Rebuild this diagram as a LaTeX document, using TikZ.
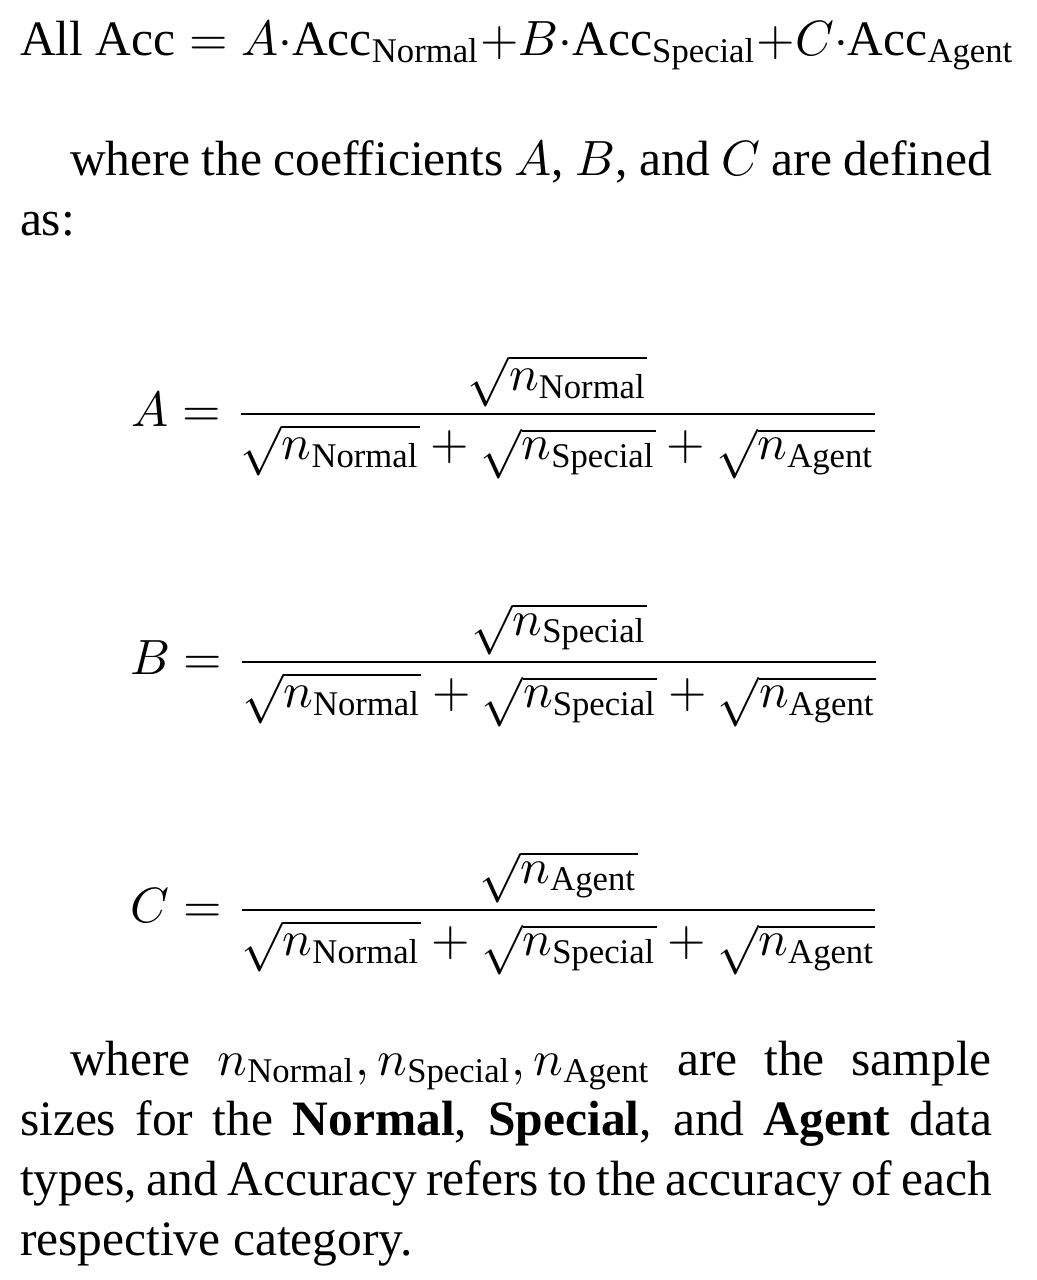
\documentclass[tikz,border=0pt]{standalone}
\usepackage{amsmath}
\usepackage[no-math]{fontspec}
\setmainfont{Liberation Serif}
\tikzset{
  txt/.style={inner sep=0pt, outer sep=0pt, anchor=base west, font=\fontsize{10}{12}\selectfont},
  dsp/.style={inner sep=0pt, outer sep=0pt, anchor=base, font=\fontsize{10}{12}\selectfont}
}
\newcommand{\ttxt}[1]{\text{#1}}
\begin{document}
\begin{tikzpicture}[x=0.2020pt,y=-0.2020pt]
\useasboundingbox (0,0) rectangle (1036,1280);
\node[txt] (top) at (20,55) {$\ttxt{All Acc} = A{\cdot}\ttxt{Acc}_{\ttxt{Normal}}{+}B{\cdot}\ttxt{Acc}_{\ttxt{Special}}{+}C{\cdot}\ttxt{Acc}_{\ttxt{Agent}}$};
\node[txt] (l1) at (70,175) {\hbox to 186.2pt{where the coefficients $A$, $B$, and $C$ are defined}};
\node[txt] (l2) at (20,235) {as:};
\node[dsp] (eqA) at (506,426) {$\displaystyle A = \frac{\sqrt{n_{\ttxt{Normal}}}}{\sqrt{n_{\ttxt{Normal}}}+\sqrt{n_{\ttxt{Special}}}+\sqrt{n_{\ttxt{Agent}}}}$};
\node[dsp] (eqB) at (506,674) {$\displaystyle B = \frac{\sqrt{n_{\ttxt{Special}}}}{\sqrt{n_{\ttxt{Normal}}}+\sqrt{n_{\ttxt{Special}}}+\sqrt{n_{\ttxt{Agent}}}}$};
\node[dsp] (eqC) at (506,922) {$\displaystyle C = \frac{\sqrt{n_{\ttxt{Agent}}}}{\sqrt{n_{\ttxt{Normal}}}+\sqrt{n_{\ttxt{Special}}}+\sqrt{n_{\ttxt{Agent}}}}$};
\node[txt] (p1) at (70,1075) {\hbox to 186.2pt{where $n_{\ttxt{Normal}}, n_{\ttxt{Special}}, n_{\ttxt{Agent}}$ are the sample}};
\node[txt] (p2) at (20,1135) {\hbox to 196.4pt{sizes for the \textbf{Normal}, \textbf{Special}, and \textbf{Agent} data}};
\node[txt] (p3) at (20,1195) {\hbox to 196.4pt{types, and Accuracy refers to the accuracy of each}};
\node[txt] (p4) at (20,1255) {respective category.};
\end{tikzpicture}
\end{document}
